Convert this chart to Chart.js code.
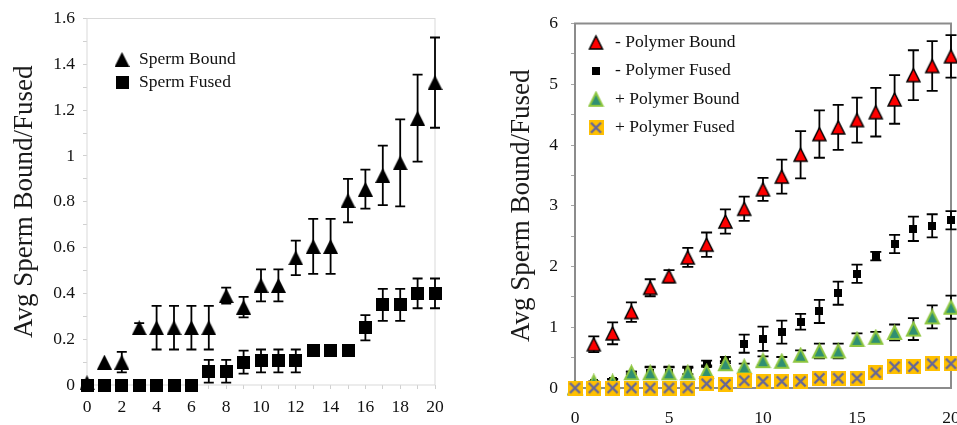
<!DOCTYPE html>
<html>
<head>
<meta charset="utf-8">
<script src="https://cdn.jsdelivr.net/npm/chart.js@4.4.1/dist/chart.umd.min.js"></script>
<style>
html,body{margin:0;padding:0;background:#fff;overflow:hidden;width:957px;height:425px;}
#c1{position:absolute;left:0;top:0;}
#c2{position:absolute;left:478px;top:0;}
</style>
</head>
<body>
<canvas id="c1" width="478" height="425"></canvas>
<canvas id="c2" width="540" height="425"></canvas>
<script>
// ---------- data ----------
const xValues = [0,1,2,3,4,5,6,7,8,9,10,11,12,13,14,15,16,17,18,19,20];

const leftXTickLabels = ['0','2','4','6','8','10','12','14','16','18','20'];
const leftYTickLabels = ['0','0.2','0.4','0.6','0.8','1','1.2','1.4','1.6'];
const rightXTickLabels = ['0','5','10','15','20'];
const rightYTickLabels = ['0','1','2','3','4','5','6'];
const yTitle = 'Avg Sperm Bound/Fused';

const spermBound    = [0.01,0.1,0.1,0.25,0.25,0.25,0.25,0.25,0.39,0.34,0.435,0.435,0.555,0.605,0.605,0.805,0.855,0.915,0.97,1.165,1.32];
const spermBoundErr = [0,0,0.045,0.02,0.095,0.095,0.095,0.095,0.035,0.045,0.07,0.07,0.075,0.12,0.12,0.095,0.085,0.13,0.19,0.19,0.197];
const spermFused    = [0,0,0,0,0,0,0,0.06,0.06,0.1,0.105,0.105,0.105,0.15,0.15,0.15,0.25,0.35,0.35,0.4,0.4];
const spermFusedErr = [0,0,0,0,0,0,0,0.05,0.05,0.05,0.05,0.05,0.05,0,0,0,0.055,0.07,0.07,0.065,0.065];

const minusBound    = [0,0.72,0.9,1.25,1.65,1.84,2.15,2.36,2.74,2.95,3.27,3.48,3.84,4.18,4.29,4.41,4.54,4.75,5.15,5.3,5.46];
const minusBoundErr = [0,0.13,0.18,0.16,0.14,0.1,0.155,0.2,0.2,0.2,0.19,0.28,0.39,0.39,0.37,0.37,0.4,0.4,0.41,0.41,0.35];
const minusFused    = [0,0.08,0.12,0.22,0.25,0.25,0.28,0.4,0.46,0.73,0.81,0.92,1.09,1.26,1.56,1.88,2.17,2.37,2.62,2.67,2.76];
const minusFusedErr = [0,0.03,0.03,0.05,0.09,0.09,0.05,0.05,0.05,0.15,0.2,0.19,0.13,0.19,0.19,0.15,0.07,0.15,0.2,0.19,0.15];
const plusBound     = [0,0.1,0.1,0.25,0.25,0.25,0.25,0.27,0.4,0.35,0.45,0.44,0.54,0.61,0.61,0.8,0.835,0.915,0.97,1.17,1.33];
const plusBoundErr  = [0,0,0.04,0.02,0.1,0.1,0.1,0.1,0.04,0.05,0.07,0.07,0.08,0.12,0.12,0.1,0.09,0.13,0.18,0.19,0.19];
const plusFused     = [0,0,0,0,0,0,0,0.07,0.06,0.12,0.11,0.11,0.11,0.16,0.16,0.16,0.25,0.35,0.35,0.4,0.4];
const plusFusedErr  = [0,0,0,0,0,0,0,0.05,0.05,0.05,0.05,0.05,0.05,0,0,0,0.055,0.07,0.07,0.065,0.065];

// ---------- markers ----------
function makeTri(w, h, fill, stroke, lw) {
  const pad = lw ? Math.ceil(lw) : 0;
  const c = document.createElement('canvas');
  c.width = w + 2 * pad; c.height = h + 2 * pad;
  const g = c.getContext('2d');
  g.beginPath();
  g.moveTo(pad + w / 2, pad);
  g.lineTo(pad + w, pad + h);
  g.lineTo(pad, pad + h);
  g.closePath();
  g.fillStyle = fill; g.fill();
  if (lw) { g.lineWidth = lw; g.strokeStyle = stroke; g.lineJoin = 'miter'; g.stroke(); }
  return c;
}
function makeSq(s, fill, xColor, xw) {
  const c = document.createElement('canvas');
  c.width = s; c.height = s;
  const g = c.getContext('2d');
  g.fillStyle = fill; g.fillRect(0, 0, s, s);
  if (xColor) {
    const m = 2.5;
    g.strokeStyle = xColor; g.lineWidth = xw;
    g.beginPath();
    g.moveTo(m, m); g.lineTo(s - m, s - m);
    g.moveTo(s - m, m); g.lineTo(m, s - m);
    g.stroke();
  }
  return c;
}
const mkLeftTri = makeTri(15, 15, '#000');
const mkLeftSq  = makeSq(13, '#000');
const mkRedTri  = makeTri(13, 13, '#ff0000', '#000', 1.5);
const mkBlkSq   = makeSq(8, '#000');
const mkGrnTri  = makeTri(13, 13, '#2f8f72', '#8dc63f', 2);
const mkYelX    = makeSq(15, '#ffc000', '#64669a', 2.4);

// ---------- plugins ----------
const FONT = "'Liberation Serif', 'Times New Roman', serif";
const frame = {
  id: 'frame',
  beforeDatasetsDraw(chart, args, opts) {
    const a = chart.chartArea, ctx = chart.ctx;
    ctx.save();
    ctx.strokeStyle = opts.color; ctx.lineWidth = opts.width;
    ctx.strokeRect(a.left, a.top, a.right - a.left, a.bottom - a.top);
    ctx.restore();
  }
};
const errorBars = {
  id: 'errorBars',
  beforeDatasetsDraw(chart, args, opts) {
    const ctx = chart.ctx, xs = chart.scales.x, ys = chart.scales.y;
    const cap = opts.cap;
    ctx.save();
    ctx.strokeStyle = '#000'; ctx.lineWidth = opts.width;
    chart.data.datasets.forEach(ds => {
      if (!ds.errors) return;
      ds.data.forEach((p, i) => {
        const e = ds.errors[i];
        if (!e) return;
        const px = xs.getPixelForValue(p.x);
        const t = ys.getPixelForValue(p.y + e);
        const b = ys.getPixelForValue(p.y - e);
        ctx.beginPath();
        ctx.moveTo(px, t); ctx.lineTo(px, b);
        ctx.moveTo(px - cap / 2, t); ctx.lineTo(px + cap / 2, t);
        ctx.moveTo(px - cap / 2, b); ctx.lineTo(px + cap / 2, b);
        ctx.stroke();
      });
    });
    ctx.restore();
  }
};
const legendBox = {
  id: 'legendBox',
  afterDatasetsDraw(chart, args, opts) {
    const a = chart.chartArea, ctx = chart.ctx;
    ctx.save();
    ctx.font = opts.size + 'px ' + FONT;
    ctx.fillStyle = '#111'; ctx.textBaseline = 'middle'; ctx.textAlign = 'left';
    chart.data.datasets.forEach((ds, i) => {
      const y = a.top + opts.top + i * opts.step;
      const img = ds.pointStyle;
      ctx.drawImage(img, a.left + opts.markerX - img.width / 2, y - img.height / 2);
      ctx.fillText(ds.label, a.left + opts.textX, y);
    });
    ctx.restore();
  }
};

function pts(ys) { return xValues.map((x, i) => ({x: x, y: ys[i]})); }
function ds(label, ys, errs, marker, order) {
  return { label: label, data: pts(ys), errors: errs, pointStyle: marker,
           pointRadius: 7, showLine: false, order: order, clip: false };
}

Chart.defaults.font.family = FONT;
Chart.defaults.color = '#111';

// ---------- left chart ----------
new Chart(document.getElementById('c1'), {
  type: 'scatter',
  data: {
    datasets: [
      ds('Sperm Bound', spermBound, spermBoundErr, mkLeftTri, 2),
      ds('Sperm Fused', spermFused, spermFusedErr, mkLeftSq, 1)
    ]
  },
  plugins: [frame, errorBars, legendBox],
  options: {
    responsive: false, animation: false,
    layout: { padding: { left: 0, top: 12, right: 43, bottom: 0 } },
    plugins: {
      legend: { display: false }, tooltip: { enabled: false },
      frame: { color: '#d9d9d9', width: 1 },
      errorBars: { cap: 10, width: 1.8 },
      legendBox: { size: 17.5, markerX: 35, textX: 52, top: 41, step: 23 }
    },
    scales: {
      x: {
        type: 'linear', min: 0, max: 20,
        afterFit(s) { s.height = 40; },
        grid: { display: true, drawOnChartArea: false, tickLength: 4, color: '#d0d0d0' },
        border: { display: false },
        ticks: { stepSize: 1, padding: 7.5, maxRotation: 0, autoSkip: false, font: { size: 17.5 },
                 callback: (v, i) => (i % 2 === 0 ? leftXTickLabels[i / 2] : '') }
      },
      y: {
        type: 'linear', min: 0, max: 1.6,
        afterFit(s) { s.width = 87; },
        grid: { display: true, drawOnChartArea: false, tickLength: 4, color: '#d0d0d0' },
        border: { display: false },
        ticks: { stepSize: 0.1, padding: 8, autoSkip: false, font: { size: 17.5 },
                 callback: (v, i) => (i % 2 === 0 ? leftYTickLabels[i / 2] : '') },
        title: { display: true, text: yTitle, font: { size: 27 }, color: '#1a1a1a', padding: { top: 8.8, bottom: 0 } }
      }
    }
  }
});

// ---------- right chart ----------
new Chart(document.getElementById('c2'), {
  type: 'scatter',
  data: {
    datasets: [
      ds('- Polymer Bound', minusBound, minusBoundErr, mkRedTri, 4),
      ds('- Polymer Fused', minusFused, minusFusedErr, mkBlkSq, 3),
      ds('+ Polymer Bound', plusBound, plusBoundErr, mkGrnTri, 2),
      ds('+ Polymer Fused', plusFused, plusFusedErr, mkYelX, 1)
    ]
  },
  plugins: [frame, errorBars, legendBox],
  options: {
    responsive: false, animation: false,
    layout: { padding: { left: 0, top: 13, right: 67, bottom: 0 } },
    plugins: {
      legend: { display: false }, tooltip: { enabled: false },
      frame: { color: '#8c8c8c', width: 2 },
      errorBars: { cap: 11, width: 1.8 },
      legendBox: { size: 17.5, markerX: 21, textX: 40, top: 19, step: 28.4 }
    },
    scales: {
      x: {
        type: 'linear', min: 0, max: 20,
        afterFit(s) { s.height = 37; },
        grid: { display: false },
        border: { display: false },
        ticks: { stepSize: 1, padding: 12, maxRotation: 0, autoSkip: false, font: { size: 17.5 },
                 callback: (v, i) => (i % 5 === 0 ? rightXTickLabels[i / 5] : '') }
      },
      y: {
        type: 'linear', min: 0, max: 6,
        afterFit(s) { s.width = 97; },
        grid: { display: true, drawOnChartArea: false, tickLength: 4, color: '#a6a6a6' },
        border: { display: false },
        ticks: { stepSize: 0.5, padding: 13, autoSkip: false, font: { size: 17.5 },
                 callback: (v, i) => (i % 2 === 0 ? rightYTickLabels[i / 2] : '') },
        title: { display: true, text: yTitle, font: { size: 27 }, color: '#1a1a1a', padding: { top: 27.8, bottom: 0 } }
      }
    }
  }
});
</script>
</body>
</html>
